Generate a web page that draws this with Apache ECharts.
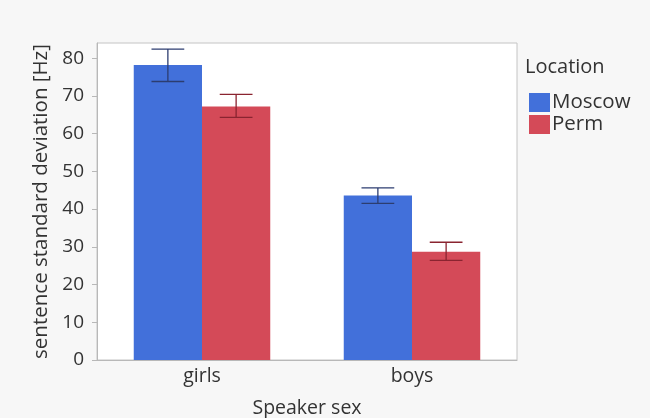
<!DOCTYPE html>
<html>
<head>
<meta charset="utf-8">
<script src="https://cdn.jsdelivr.net/npm/echarts@6/dist/echarts.min.js"></script>
<style>
  html, body { margin: 0; padding: 0; background: #f7f7f7; }
  #chart { width: 650px; height: 418px; }
</style>
</head>
<body>
<div id="chart"></div>
<script>
// Mean sentence F0 standard deviation by speaker sex and location
const categories = ['girls', 'boys'];
const locations = ['Moscow', 'Perm'];
const moscowMean = [78.2, 43.6];
const permMean = [67.2, 28.7];
const moscowLow = [73.8, 41.5];
const moscowHigh = [82.4, 45.6];
const permLow = [64.3, 26.4];
const permHigh = [70.4, 31.2];
const yTicks = [0, 10, 20, 30, 40, 50, 60, 70, 80];

const FONT = '"Open Sans", "Noto Sans", sans-serif';
const TEXT = '#333333';
const BLUE = '#4270da';
const RED = '#d44a58';
const BAR_CAT_GAP = 0.35;

function errorSeries(name, low, high, side, color) {
  return {
    type: 'custom',
    name: name + ' error',
    z: 5,
    silent: true,
    data: categories.map((c, i) => [i, low[i], high[i]]),
    renderItem: function (params, api) {
      const idx = api.value(0);
      const lo = api.coord([idx, api.value(1)]);
      const hi = api.coord([idx, api.value(2)]);
      const band = api.size([1, 0])[0];
      const bw = band * (1 - BAR_CAT_GAP) / 2;
      const x = lo[0] + side * bw / 2;
      const cap = bw * 0.48;
      const style = { stroke: color, lineWidth: 1.3, fill: null };
      return {
        type: 'group',
        children: [
          { type: 'line', shape: { x1: x, y1: lo[1], x2: x, y2: hi[1] }, style: style },
          { type: 'line', shape: { x1: x - cap / 2, y1: hi[1], x2: x + cap / 2, y2: hi[1] }, style: style },
          { type: 'line', shape: { x1: x - cap / 2, y1: lo[1], x2: x + cap / 2, y2: lo[1] }, style: style }
        ]
      };
    }
  };
}

const chart = echarts.init(document.getElementById('chart'));
chart.setOption({
  animation: false,
  backgroundColor: '#f7f7f7',
  textStyle: { fontFamily: FONT },
  grid: {
    left: 97, top: 43, width: 420, height: 317,
    outerBoundsMode: 'none',
    show: true, backgroundColor: '#ffffff', borderColor: '#c4c4c4', borderWidth: 1
  },
  graphic: [{
    type: 'text', left: 525, top: 57,
    style: { text: 'Location', font: '20px ' + FONT, fill: TEXT }
  }],
  legend: {
    data: locations,
    orient: 'vertical',
    left: 524, top: 87,
    itemWidth: 21, itemHeight: 19, itemGap: 1,
    icon: 'rect',
    textStyle: { fontSize: 20.5, color: TEXT, fontFamily: FONT, padding: [0, 0, 0, -3] },
    selectedMode: false
  },
  xAxis: {
    type: 'category',
    data: categories,
    name: 'Speaker sex',
    nameLocation: 'middle',
    nameGap: 38,
    nameTextStyle: { fontSize: 19.5, color: TEXT, fontFamily: FONT },
    axisLine: { lineStyle: { color: '#b8b8b8' } },
    axisTick: { show: false },
    axisLabel: { fontSize: 19.5, color: TEXT, margin: 6, fontFamily: FONT }
  },
  yAxis: {
    type: 'value',
    min: 0, max: 84,
    name: 'sentence standard deviation [Hz]',
    nameLocation: 'middle',
    nameGap: 34,
    nameTextStyle: { fontSize: 20.5, color: TEXT, fontFamily: FONT },
    axisLine: { show: true, lineStyle: { color: '#b8b8b8' } },
    axisTick: { show: true, length: 5, customValues: yTicks, lineStyle: { color: '#b8b8b8' } },
    axisLabel: { fontSize: 19, color: TEXT, margin: 13, customValues: yTicks, fontFamily: FONT },
    splitLine: { show: false }
  },
  series: [
    {
      name: 'Moscow', type: 'bar', data: moscowMean,
      itemStyle: { color: BLUE }, barGap: '0%', barCategoryGap: '35%'
    },
    {
      name: 'Perm', type: 'bar', data: permMean,
      itemStyle: { color: RED }, barGap: '0%', barCategoryGap: '35%'
    },
    errorSeries('Moscow', moscowLow, moscowHigh, -1, '#2c3d70'),
    errorSeries('Perm', permLow, permHigh, 1, '#8a2430')
  ]
});
</script>
</body>
</html>
